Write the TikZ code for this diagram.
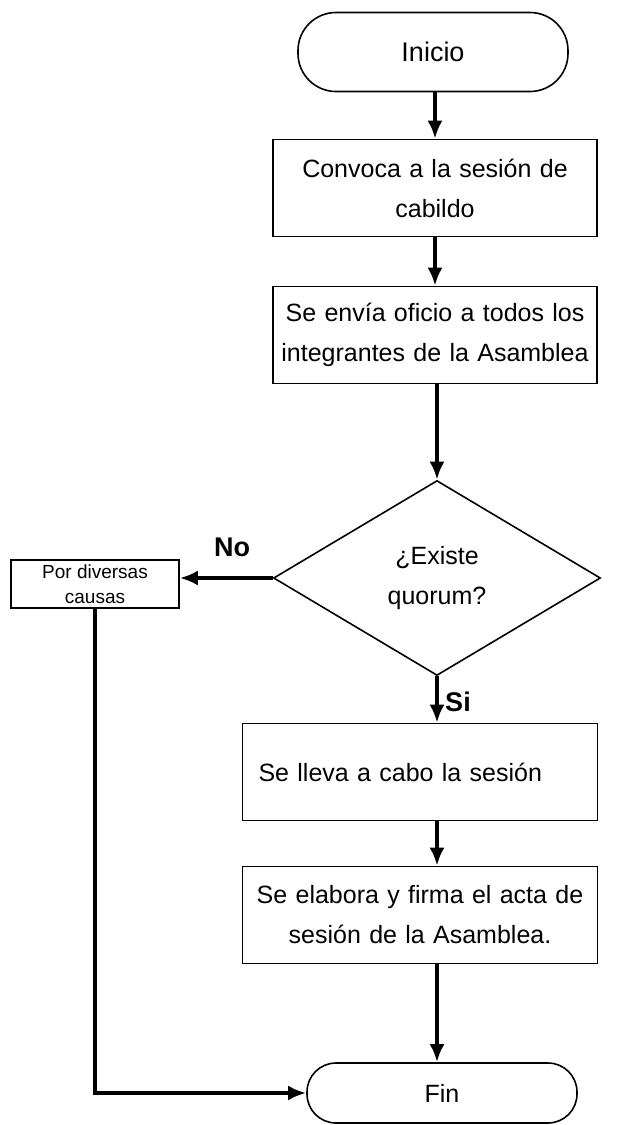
\documentclass[tikz,border=0pt]{standalone}
\usepackage{fontspec}
\setmainfont{Liberation Sans}
\usetikzlibrary{shapes.geometric,arrows.meta}
\begin{document}
\begin{tikzpicture}[x=1pt,y=-1pt,
  every node/.style={font=\fontsize{25}{40}\selectfont},
  term/.style={draw, line width=1.6pt, rounded corners=38pt, minimum height=79pt, inner sep=0pt},
  proc/.style={draw, line width=1.6pt, minimum height=97pt, inner sep=6pt, align=center},
  dec/.style={draw, diamond, line width=1.6pt, minimum width=327pt, minimum height=195pt, inner sep=0pt, align=center},
  small/.style={draw, line width=1.6pt, minimum width=168pt, minimum height=48pt, inner sep=0pt, align=center, font=\fontsize{19}{25}\selectfont},
  arr/.style={line width=4pt, -{Latex[length=18pt,width=15pt]}},
  lbl/.style={font=\fontsize{27}{30}\selectfont\bfseries}]
\useasboundingbox (0,0) rectangle (639,1125);
\fill[white] (0,0) rectangle (639,1125);
\node[term, minimum width=270pt, font=\fontsize{27}{30}\selectfont] (ini) at (433,52) {Inicio};
\node[proc, minimum width=324pt, text width=312pt] (conv) at (435,188) {Convoca a la sesión de\\cabildo};
\node[proc, minimum width=324pt, text width=312pt] (env) at (435,335) {Se envía oficio a todos los\\integrantes de la Asamblea};
\node[dec] (dia) at (437,578) {¿Existe\\quorum?};
\node[small] (causa) at (95,584) {Por diversas\\causas};
\node[proc, minimum width=355pt, text width=323pt, align=left] (lleva) at (420,772) {Se lleva a cabo la sesión};
\node[proc, minimum width=355pt, text width=343pt] (elab) at (420,915) {Se elabora y firma el acta de\\sesión de la Asamblea.};
\node[term, minimum width=270pt, minimum height=60pt, rounded corners=29pt] (fin) at (442,1093) {Fin};
\draw[arr] (ini.south -| conv.north) -- (conv.north);
\draw[arr] (conv.south) -- (env.north);
\draw[arr] (env.south -| dia.north) -- (dia.north);
\draw[arr] (dia.west) -- (causa.east |- dia.west);
\draw[arr] (dia.south) -- (lleva.north -| dia.south);
\draw[arr] (lleva.south -| dia.south) -- (elab.north -| dia.south);
\draw[arr] (elab.south -| dia.south) -- (fin.north -| dia.south);
\draw[arr] (causa.south) -- (causa.south |- fin.west) -- (fin.west);
\node[lbl] (no) at (232,547) {No};
\node[lbl] (si) at (458,702) {Si};
\end{tikzpicture}
\end{document}
